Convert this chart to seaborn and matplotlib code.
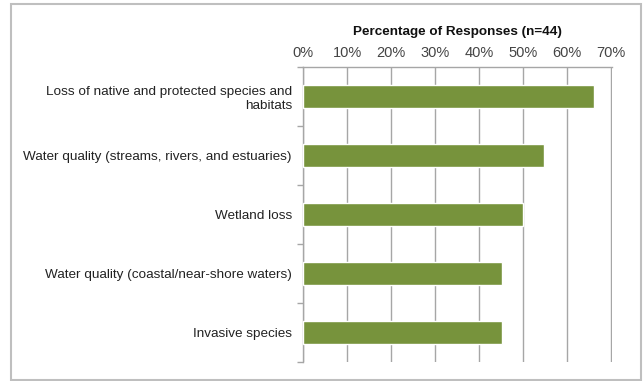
import matplotlib
matplotlib.use("Agg")
import matplotlib.pyplot as plt
import matplotlib.patches as patches
from matplotlib.ticker import PercentFormatter, FixedLocator
import pandas as pd
import seaborn as sns

categories = [
    "Loss of native and protected species and\nhabitats",
    "Water quality (streams, rivers, and estuaries)",
    "Wetland loss",
    "Water quality (coastal/near-shore waters)",
    "Invasive species",
]
percent = [66.0, 54.8, 50.0, 45.2, 45.2]
x_ticks = [0, 10, 20, 30, 40, 50, 60, 70]

sns.set_style("white")
plt.rcParams['font.family'] = ['Liberation Sans', 'DejaVu Sans']

df = pd.DataFrame({"issue": categories, "pct": percent})

fig = plt.figure(figsize=(6.44, 3.81), dpi=100)
ax = fig.add_axes([0.4705, 0.05, 0.4795, 0.774])

sns.barplot(data=df, x="pct", y="issue", orient="h", color="#77933c",
            width=0.4, saturation=1, ax=ax, zorder=3)

ax.set_xlim(0, 70.15)
ax.set_ylim(4.5, -0.5)
ax.xaxis.set_major_locator(FixedLocator(x_ticks))
ax.xaxis.set_major_formatter(PercentFormatter(decimals=0))
ax.xaxis.tick_top()
ax.xaxis.set_label_position("top")
ax.set_xlabel("Percentage of Responses (n=44)", fontsize=9.7, fontweight="bold",
              labelpad=8, color="#111111")
ax.set_ylabel("")
ax.grid(axis="x", color="#a6a6a6", linewidth=1, zorder=0)
ax.tick_params(axis="x", length=0, labelsize=10.5, pad=5, colors="#444444")
ax.tick_params(axis="y", which="major", length=0, labelsize=9.7, pad=8, colors="#222222")
ax.yaxis.set_minor_locator(FixedLocator([i - 0.5 for i in range(len(categories) + 1)]))
ax.tick_params(axis="y", which="minor", left=True, length=4, direction="out",
               color="#a6a6a6", width=1)

for side in ["right", "bottom"]:
    ax.spines[side].set_visible(False)
for side in ["left", "top"]:
    ax.spines[side].set_color("#a6a6a6")
    ax.spines[side].set_linewidth(1)

border = patches.Rectangle((11 / 644, 1 / 381), 630 / 644, 376 / 381,
                           transform=fig.transFigure, fill=False,
                           edgecolor="#bfbfbf", linewidth=1.5)
fig.patches.append(border)

fig.savefig("out.png", dpi=100)
